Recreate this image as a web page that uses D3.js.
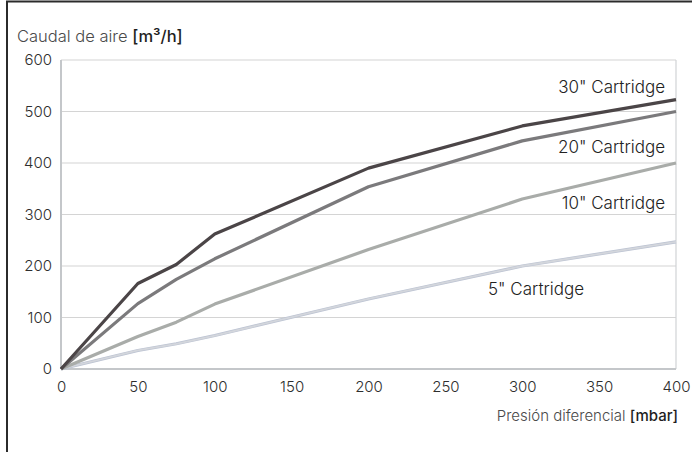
<!DOCTYPE html>
<html><head><meta charset="utf-8">
<script src="https://cdn.jsdelivr.net/npm/d3@7"></script>
<style>
body{margin:0;background:#fff;}
svg{display:block;font-family:Inter, "Noto Sans", sans-serif;}
</style></head>
<body><svg id="c" width="692" height="452"></svg>
<script>
const pressure = [0, 50, 75, 100, 200, 300, 400];
const cart30 = [0, 166, 203, 262, 390, 472, 523];
const cart20 = [0, 127, 174, 214, 354, 443, 500];
const cart10 = [0, 63, 91, 126, 232, 330, 400];
const cart5  = [0, 36, 49, 65, 136, 200, 247];
const seriesNames = ['30" Cartridge', '20" Cartridge', '10" Cartridge', '5" Cartridge'];
const seriesValues = [cart30, cart20, cart10, cart5];
const seriesColors = ['#4b4547', '#7b7a7c', '#a9aca9', '#d3d6dc'];
const xTicks = [0, 50, 100, 150, 200, 250, 300, 350, 400];
const yTicks = [0, 100, 200, 300, 400, 500, 600];

const svg = d3.select('#c');
const x = d3.scaleLinear().domain([0, 400]).range([61, 676]);
const y = d3.scaleLinear().domain([0, 600]).range([369, 60]);

// frame
svg.append('path').attr('d', 'M7,452 V1.5 H692').attr('fill', 'none').attr('stroke', '#2b2b2b').attr('stroke-width', 2);

// grid
svg.append('g').selectAll('line').data(yTicks.slice(1)).join('line')
  .attr('x1', x(0)).attr('x2', x(400)).attr('y1', d => y(d)).attr('y2', d => y(d))
  .attr('stroke', '#d4d4d4').attr('stroke-width', 1.2);
svg.append('line').attr('x1', x(400)).attr('x2', x(400)).attr('y1', y(600)).attr('y2', y(0))
  .attr('stroke', '#d0d3d6').attr('stroke-width', 1.2);
svg.append('line').attr('x1', x(0)).attr('x2', x(400)).attr('y1', y(0)).attr('y2', y(0))
  .attr('stroke', '#c4c7ca').attr('stroke-width', 2);
svg.append('line').attr('x1', x(0)).attr('x2', x(0)).attr('y1', y(600)).attr('y2', y(0))
  .attr('stroke', '#c4c7ca').attr('stroke-width', 2);

// axes labels
const yAxis = d3.axisLeft(y).tickValues(yTicks).tickSize(0).tickPadding(9);
const gy = svg.append('g').attr('transform', `translate(${x(0)},0)`).call(yAxis);
gy.select('.domain').remove();
gy.selectAll('text').attr('font-size', 15).attr('font-weight', 300).attr('fill', '#2e2e2e').attr('font-family', 'Inter, sans-serif');

const xAxis = d3.axisBottom(x).tickValues(xTicks).tickSize(0).tickPadding(12);
const gx = svg.append('g').attr('transform', `translate(0,${y(0)})`).call(xAxis);
gx.select('.domain').remove();
gx.selectAll('text').attr('font-size', 15).attr('font-weight', 300).attr('fill', '#2e2e2e').attr('font-family', 'Inter, sans-serif');

// titles
const yt = svg.append('text').attr('x', 17).attr('y', 42).attr('font-size', 16.5).attr('font-weight', 300).attr('fill', '#4a4a4a');
yt.append('tspan').text('Caudal de aire ');
yt.append('tspan').attr('fill', '#1e1e1e').attr('font-weight', 500).text('[m³/h]');
const xt = svg.append('text').attr('x', 678).attr('y', 421).attr('text-anchor', 'end').attr('font-size', 15).attr('font-weight', 300).attr('fill', '#4a4a4a');
xt.append('tspan').text('Presión diferencial ');
xt.append('tspan').attr('fill', '#1e1e1e').attr('font-weight', 500).text('[mbar]');

// lines
const line = d3.line().x((d, i) => x(pressure[i])).y(d => y(d));
[3, 2, 1, 0].forEach(k => {
  svg.append('path').datum(seriesValues[k]).attr('d', line).attr('fill', 'none')
    .attr('stroke', k === 3 ? '#bcc3d2' : seriesColors[k]).attr('stroke-width', 3.2).attr('stroke-linejoin', 'round');
  if (k === 3) svg.append('path').datum(seriesValues[k]).attr('d', line).attr('fill', 'none')
    .attr('stroke', seriesColors[k]).attr('stroke-width', 1.8);
});

// series labels
const labelPos = [
  {i: 0, x: 665, y: 93, a: 'end'},
  {i: 1, x: 665, y: 153, a: 'end'},
  {i: 2, x: 665, y: 209, a: 'end'},
  {i: 3, x: 488, y: 295, a: 'start'}
];
svg.append('g').selectAll('text').data(labelPos).join('text')
  .attr('x', d => d.x).attr('y', d => d.y).attr('text-anchor', d => d.a)
  .attr('font-size', 17).attr('font-weight', 300).attr('fill', '#222').text(d => seriesNames[d.i]);
</script></body></html>
